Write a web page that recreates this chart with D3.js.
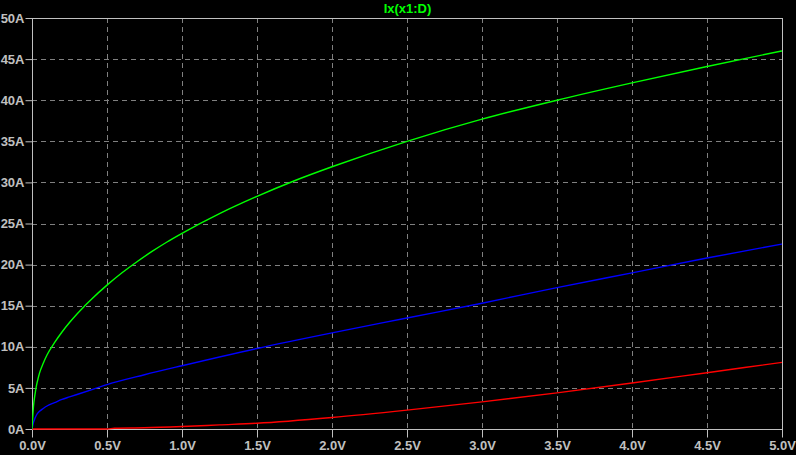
<!DOCTYPE html>
<html>
<head>
<meta charset="utf-8">
<script src="https://cdn.jsdelivr.net/npm/d3@7"></script>
<style>
html,body{margin:0;padding:0;background:#000;}
svg{display:block;}
</style>
</head>
<body>
<svg id="chart" width="796" height="455"></svg>
<script>
// ---- data ----
const title = "Ix(x1:D)";
const xTicks = [0,0.5,1.0,1.5,2.0,2.5,3.0,3.5,4.0,4.5,5.0];
const yTicks = [0,5,10,15,20,25,30,35,40,45,50];

const greenV = [0,0.01,0.02,0.03,0.04,0.05,0.075,0.1,0.15,0.2,0.25,0.3,0.35,0.4,0.5,0.6,0.7,0.8,0.9,1.0,1.25,1.5,1.75,2.0,2.5,3.0,3.5,4.0,4.5,5.0];
const greenI = [0,2.8,4.2,5.3,6.1,6.8,8.0,9.0,10.5,11.8,12.95,14.0,14.95,15.85,17.5,19.0,20.35,21.6,22.75,23.8,26.2,28.3,30.2,31.9,35.0,37.7,40.0,42.1,44.1,46.0];

const blueV = [0,0.01,0.02,0.03,0.05,0.075,0.1,0.15,0.2,0.25,0.3,0.4,0.5,0.75,1.0,1.5,2.0,2.5,3.0,3.5,4.0,4.5,5.0];
const blueI = [0,0.8,1.3,1.7,2.15,2.5,2.8,3.2,3.6,3.9,4.2,4.8,5.4,6.6,7.7,9.8,11.7,13.5,15.3,17.2,19.0,20.8,22.5];

const redV = [0,0.5,0.55,0.75,1.0,1.25,1.5,2.0,2.5,3.0,3.5,4.0,4.5,5.0];
const redI = [0,0,0.1,0.15,0.3,0.5,0.7,1.4,2.3,3.3,4.4,5.6,6.85,8.1];

const series = [
  {color:"#00ff00", v:greenV, i:greenI},
  {color:"#0000ff", v:blueV, i:blueI},
  {color:"#ff0000", v:redV, i:redI}
];

(function(){
// ---- layout ----
const pL = 32, pR = 782, pT = 18, pB = 429;
const svg = d3.select("#chart");
svg.append("rect").attr("width",796).attr("height",455).attr("fill","#000");

const x = d3.scaleLinear().domain([0,5]).range([pL,pR]);
const y = d3.scaleLinear().domain([0,50]).range([pB,pT]);

const axisColor = "#c0c0c0";
const gridColor = "#808080";
const font = "'Liberation Sans', Arial, sans-serif";

// grid
const grid = svg.append("g");
grid.selectAll("line.gx").data(xTicks.filter(d=>d>0 && d<5)).join("line")
  .attr("x1",d=>Math.round(x(d))+0.5).attr("x2",d=>Math.round(x(d))+0.5)
  .attr("y1",pT).attr("y2",pB)
  .attr("stroke",gridColor).attr("stroke-dasharray","5,4");
grid.selectAll("line.gy").data(yTicks.filter(d=>d>0 && d<50)).join("line")
  .attr("y1",d=>Math.round(y(d))+0.5).attr("y2",d=>Math.round(y(d))+0.5)
  .attr("x1",pL).attr("x2",pR)
  .attr("stroke",gridColor).attr("stroke-dasharray","5,4");

// axes via d3
const xAxis = d3.axisBottom(x).tickValues(xTicks).tickSize(8).tickPadding(3)
  .tickFormat(d=>d3.format(".1f")(d)+"V");
const yAxis = d3.axisLeft(y).tickValues(yTicks).tickSize(7).tickPadding(1)
  .tickFormat(d=>d+"A");

const gx = svg.append("g").attr("transform",`translate(0,${pB+0.5})`).call(xAxis);
const gy = svg.append("g").attr("transform",`translate(${pL+0.5},0)`).call(yAxis);
[gx,gy].forEach(g=>{
  g.select(".domain").remove();
  g.selectAll("line").attr("stroke",axisColor);
  g.selectAll("text").attr("fill",axisColor).style("font-family",font)
    .style("font-size","13px").style("font-weight","bold");
});

// frame
svg.append("rect").attr("x",pL+0.5).attr("y",pT+0.5)
  .attr("width",pR-pL).attr("height",pB-pT)
  .attr("fill","none").attr("stroke",axisColor);

// curves
const line = d3.line().x(d=>x(d[0])).y(d=>y(d[1])).curve(d3.curveMonotoneX);
svg.append("clipPath").attr("id","clip").append("rect")
  .attr("x",pL).attr("y",pT).attr("width",pR-pL+1).attr("height",pB-pT+1);
series.slice().reverse().forEach(s=>{
  svg.append("path").datum(s.v.map((v,k)=>[v,s.i[k]]))
    .attr("d",line).attr("fill","none").attr("stroke",s.color).attr("stroke-width",1.4)
    .attr("clip-path","url(#clip)");
});

// title
svg.append("text").attr("x",(pL+pR)/2 + 0.5).attr("y",13)
  .attr("text-anchor","middle").attr("fill","#00ff00")
  .style("font-family",font).style("font-size","13px").style("font-weight","bold").text(title);
})();
</script>
</body>
</html>
